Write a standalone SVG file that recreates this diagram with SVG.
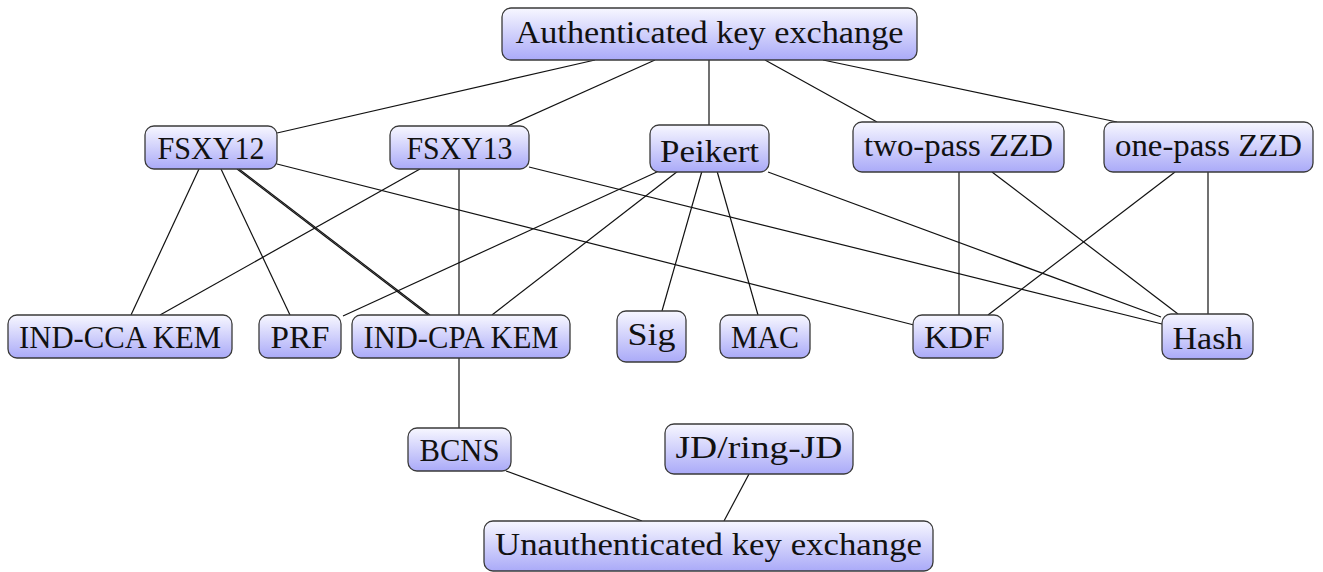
<svg xmlns="http://www.w3.org/2000/svg" width="1323" height="572" viewBox="0 0 1323 572">
  <defs>
    <linearGradient id="fill" x1="0" y1="0" x2="0" y2="1">
      <stop offset="0" stop-color="#f7f7ff"/>
      <stop offset="1" stop-color="#aaaaf8"/>
    </linearGradient>
    <style>
      .box { fill: url(#fill); stroke: #3a3a3a; stroke-width: 1.3; }
      .lbl { font-family: "Liberation Serif", "DejaVu Serif", serif; font-size: 32px; fill: #111; text-anchor: middle; }
      .edge { stroke: #111; stroke-width: 1.2; fill: none; }
    </style>
  </defs>
  <rect width="1323" height="572" fill="#fff"/>

  <g id="connectors">
    <!-- from the authenticated key exchange root -->
    <line class="edge" x1="595" y1="60" x2="277" y2="133"/>
    <line class="edge" x1="655" y1="60" x2="508" y2="126"/>
    <line class="edge" x1="709" y1="60" x2="709" y2="125"/>
    <line class="edge" x1="765" y1="60" x2="877" y2="122"/>
    <line class="edge" x1="823" y1="60" x2="1117" y2="122"/>
    <!-- FSXY12 -->
    <line class="edge" x1="199" y1="169" x2="131" y2="315"/>
    <line class="edge" x1="221" y1="169" x2="290" y2="315"/>
    <line class="edge" x1="237" y1="169" x2="428" y2="315"/>
    <line class="edge" x1="239" y1="169" x2="430" y2="315"/>
    <line class="edge" x1="277" y1="164" x2="914" y2="325"/>
    <!-- FSXY13 -->
    <line class="edge" x1="420" y1="169" x2="160" y2="315"/>
    <line class="edge" x1="459" y1="169" x2="459" y2="315"/>
    <line class="edge" x1="529" y1="167" x2="1162" y2="324"/>
    <!-- Peikert -->
    <line class="edge" x1="659" y1="171" x2="343" y2="316"/>
    <line class="edge" x1="678" y1="171" x2="492" y2="315"/>
    <line class="edge" x1="702" y1="171" x2="662" y2="311"/>
    <line class="edge" x1="717" y1="171" x2="758" y2="315"/>
    <line class="edge" x1="768" y1="172" x2="1161" y2="317"/>
    <!-- two-pass ZZD -->
    <line class="edge" x1="959" y1="172" x2="959" y2="315"/>
    <line class="edge" x1="992" y1="172" x2="1178" y2="314"/>
    <!-- one-pass ZZD -->
    <line class="edge" x1="1175" y1="172" x2="988" y2="315"/>
    <line class="edge" x1="1208" y1="172" x2="1208" y2="314"/>
    <!-- lower part -->
    <line class="edge" x1="459" y1="358" x2="459" y2="428"/>
    <line class="edge" x1="506" y1="471" x2="642" y2="521"/>
    <line class="edge" x1="749" y1="474" x2="724" y2="521"/>
  </g>

  <g id="ake">
    <rect class="box" x="502" y="8" width="415" height="52" rx="9"/>
    <text class="lbl" x="709.5" y="43" textLength="388" lengthAdjust="spacingAndGlyphs">Authenticated key exchange</text>
  </g>
  <g id="fsxy12">
    <rect class="box" x="145" y="126" width="132" height="43" rx="9"/>
    <text class="lbl" x="211" y="159" textLength="107" lengthAdjust="spacingAndGlyphs">FSXY12</text>
  </g>
  <g id="fsxy13">
    <rect class="box" x="390" y="126" width="139" height="43" rx="9"/>
    <text class="lbl" x="459.5" y="159" textLength="106" lengthAdjust="spacingAndGlyphs">FSXY13</text>
  </g>
  <g id="peikert">
    <rect class="box" x="650" y="125" width="119" height="47" rx="9"/>
    <text class="lbl" x="709.5" y="162" textLength="99" lengthAdjust="spacingAndGlyphs">Peikert</text>
  </g>
  <g id="two-pass-zzd">
    <rect class="box" x="853" y="122" width="211" height="50" rx="9"/>
    <text class="lbl" x="958.5" y="156" textLength="189" lengthAdjust="spacingAndGlyphs">two-pass ZZD</text>
  </g>
  <g id="one-pass-zzd">
    <rect class="box" x="1104" y="122" width="209" height="50" rx="9"/>
    <text class="lbl" x="1208.5" y="156" textLength="187" lengthAdjust="spacingAndGlyphs">one-pass ZZD</text>
  </g>
  <g id="ind-cca-kem">
    <rect class="box" x="8" y="315" width="224" height="43" rx="9"/>
    <text class="lbl" x="120" y="348" textLength="202" lengthAdjust="spacingAndGlyphs">IND-CCA KEM</text>
  </g>
  <g id="prf">
    <rect class="box" x="259" y="315" width="82" height="43" rx="9"/>
    <text class="lbl" x="300" y="348" textLength="59" lengthAdjust="spacingAndGlyphs">PRF</text>
  </g>
  <g id="ind-cpa-kem">
    <rect class="box" x="352" y="315" width="218" height="43" rx="9"/>
    <text class="lbl" x="461" y="348" textLength="195" lengthAdjust="spacingAndGlyphs">IND-CPA KEM</text>
  </g>
  <g id="sig">
    <rect class="box" x="617" y="311" width="69" height="51" rx="9"/>
    <text class="lbl" x="651.5" y="345" textLength="48" lengthAdjust="spacingAndGlyphs">Sig</text>
  </g>
  <g id="mac">
    <rect class="box" x="720" y="315" width="90" height="43" rx="9"/>
    <text class="lbl" x="765" y="348" textLength="68" lengthAdjust="spacingAndGlyphs">MAC</text>
  </g>
  <g id="kdf">
    <rect class="box" x="913" y="315" width="90" height="43" rx="9"/>
    <text class="lbl" x="958" y="348" textLength="68" lengthAdjust="spacingAndGlyphs">KDF</text>
  </g>
  <g id="hash">
    <rect class="box" x="1162" y="314" width="91" height="45" rx="9"/>
    <text class="lbl" x="1207.5" y="349" textLength="70" lengthAdjust="spacingAndGlyphs">Hash</text>
  </g>
  <g id="bcns">
    <rect class="box" x="408" y="428" width="103" height="43" rx="9"/>
    <text class="lbl" x="459.5" y="461" textLength="80" lengthAdjust="spacingAndGlyphs">BCNS</text>
  </g>
  <g id="jd-ring-jd">
    <rect class="box" x="665" y="424" width="188" height="50" rx="9"/>
    <text class="lbl" x="759" y="458" textLength="167" lengthAdjust="spacingAndGlyphs">JD/ring-JD</text>
  </g>
  <g id="uake">
    <rect class="box" x="484" y="521" width="449" height="50" rx="9"/>
    <text class="lbl" x="708.5" y="555" textLength="427" lengthAdjust="spacingAndGlyphs">Unauthenticated key exchange</text>
  </g>
</svg>
